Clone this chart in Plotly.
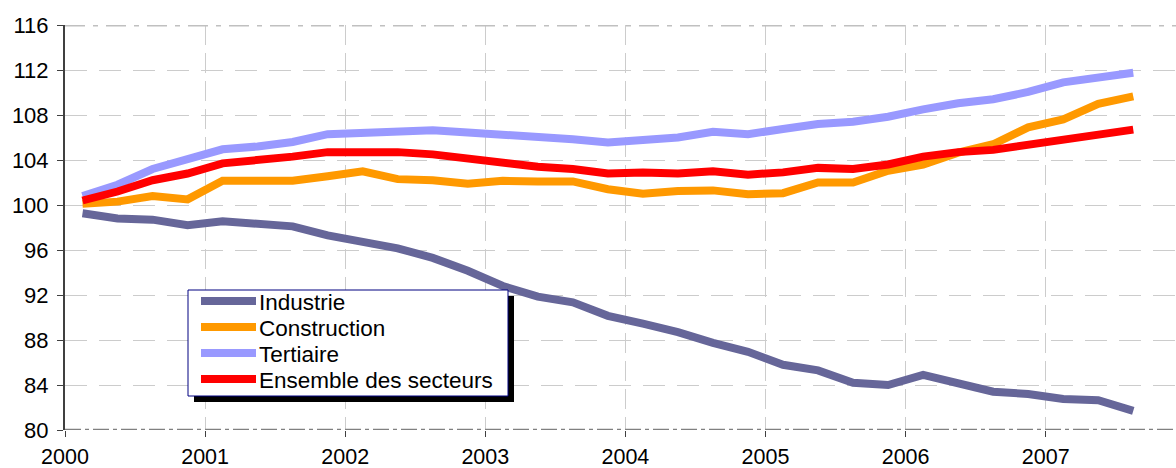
import plotly.graph_objects as go

# Quarterly index, 2000Q1 .. 2007Q3 (base 100)
quarters = [2000 + q / 4 + 0.125 for q in range(31)]

industrie = [99.26, 98.8, 98.7, 98.2, 98.55, 98.4, 98.1, 97.3, 96.7, 96.15,
             95.3, 94.15, 92.8, 91.85, 91.35, 90.15, 89.45, 88.7, 87.75, 86.95,
             85.8, 85.3, 84.2, 84.0, 84.9, 84.2, 83.4, 83.2, 82.75, 82.65, 81.7]
construction = [100.1, 100.3, 100.8, 100.5, 102.15, 102.15, 102.15, 102.55, 103.0, 102.3,
                102.2, 101.9, 102.15, 102.1, 102.1, 101.4, 101.0, 101.25, 101.3, 100.95,
                101.05, 102.0, 102.0, 103.05, 103.6, 104.65, 105.4, 106.9, 107.6, 109.0, 109.65]
tertiaire = [100.8, 101.8, 103.2, 104.1, 104.95, 105.2, 105.6, 106.3, 106.45, 106.65,
             106.65, 106.45, 106.3, 106.0, 105.85, 105.55, 105.85, 106.0, 106.5, 106.3,
             106.75, 107.2, 107.4, 107.85, 108.5, 109.05, 109.4, 110.05, 110.9, 111.3, 111.75]
ensemble = [100.4, 101.2, 102.2, 102.8, 103.7, 103.95, 104.3, 104.7, 104.75, 104.7,
            104.5, 104.1, 103.85, 103.4, 103.2, 102.8, 102.9, 102.8, 103.0, 102.7,
            102.9, 103.3, 103.2, 103.6, 104.3, 104.7, 104.9, 105.35, 105.9, 106.35, 106.7]

series_names = ["Industrie", "Construction", "Tertiaire", "Ensemble des secteurs"]
series_colors = ["#666699", "#FF9900", "#9999FF", "#FF0000"]
series_values = [industrie, construction, tertiaire, ensemble]

year_ticks = [2000, 2001, 2002, 2003, 2004, 2005, 2006, 2007]
year_labels = [str(y) for y in year_ticks]
y_ticks = list(range(80, 117, 4))

FONT = "Liberation Sans, Arial, sans-serif"
W, H = 1176, 468
ML, MR, MT, MB = 65, 0, 25, 38
PW, PH = W - ML - MR, H - MT - MB


def px_x(px):
    return (px - ML) / PW


def px_y(py):
    return (H - MB - py) / PH


fig = go.Figure()
for name, color, vals in zip(series_names, series_colors, series_values):
    fig.add_trace(go.Scatter(x=quarters, y=vals, mode="lines", name=name,
                             line=dict(color=color, width=8)))

fig.update_layout(
    width=W, height=H,
    margin=dict(l=ML, r=MR, t=MT, b=MB, autoexpand=False),
    paper_bgcolor="white", plot_bgcolor="white",
    font=dict(family=FONT, size=22, color="black"),
    showlegend=False,
    xaxis=dict(range=[2000, 2007.93], tickvals=year_ticks, ticktext=year_labels,
               showgrid=True, gridcolor="#cccccc", gridwidth=1, griddash="20px,8px",
               ticks="outside", ticklen=6, tickcolor="#404040", ticklabelstandoff=1,
               showline=False, zeroline=False, automargin=False,
               tickfont=dict(family=FONT, size=21.5, color="black")),
    yaxis=dict(range=[80, 116], tickvals=y_ticks,
               showgrid=True, gridcolor="#cccccc", gridwidth=1, griddash="22px,12px",
               ticks="outside", ticklen=6, tickcolor="#404040", ticklabelstandoff=4,
               showline=True, linecolor="#404040", linewidth=2, zeroline=False,
               automargin=False,
               tickfont=dict(family=FONT, size=22, color="black")),
)

# top frame (dash-dot light grey) and bottom axis (dash-dot dark grey)
fig.add_shape(type="line", xref="paper", yref="y", x0=0, x1=1, y0=116, y1=116,
              line=dict(color="#c0c0c0", width=3, dash="20px,8px,5px,8px"))
fig.add_shape(type="line", xref="paper", yref="y", x0=0, x1=1, y0=80, y1=80,
              line=dict(color="#808080", width=2.5, dash="16px,4px,4px,4px"))

# legend box with drop shadow
LB_L, LB_R, LB_T, LB_B = 188, 508, 290, 396
SH = 6
fig.add_shape(type="rect", xref="paper", yref="paper",
              x0=px_x(LB_L + SH), x1=px_x(LB_R + SH), y0=px_y(LB_B + SH), y1=px_y(LB_T + SH),
              fillcolor="black", line=dict(width=0))
fig.add_shape(type="rect", xref="paper", yref="paper",
              x0=px_x(LB_L), x1=px_x(LB_R), y0=px_y(LB_B), y1=px_y(LB_T),
              fillcolor="white", line=dict(color="#000080", width=1))
row_y = [301, 327, 353, 379]
for name, color, ry in zip(series_names, series_colors, row_y):
    fig.add_shape(type="line", xref="paper", yref="paper",
                  x0=px_x(201), x1=px_x(256), y0=px_y(ry), y1=px_y(ry),
                  line=dict(color=color, width=8))
    fig.add_annotation(xref="paper", yref="paper", x=px_x(257), y=px_y(ry + 1),
                       text=name, showarrow=False, xanchor="left", yanchor="middle",
                       font=dict(family=FONT, size=22.5, color="black"))

fig.write_html("out.html", post_script="document.body.style.margin='0';",
               config={"displayModeBar": False})
